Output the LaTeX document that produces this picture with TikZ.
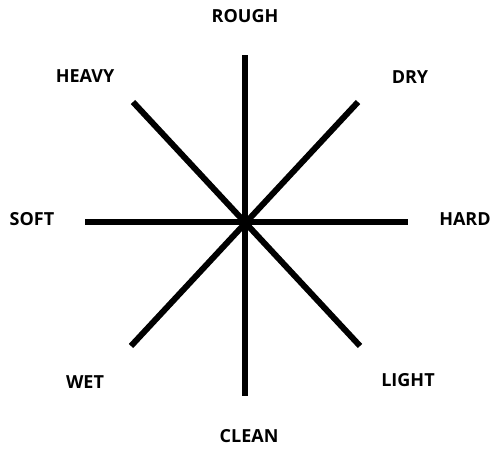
\documentclass[tikz,border=0pt]{standalone}
\usepackage{fontspec}
\setmainfont{Open Sans}
\begin{document}
\begin{tikzpicture}[x=1pt,y=-1pt,
  axis/.style={line width=6pt,black},
  lbl/.style={font=\bfseries\fontsize{18}{21}\selectfont,inner sep=0pt}]
\useasboundingbox (0,0) rectangle (492,448);
\coordinate (c) at (245,222);
\coordinate (n) at (245,55);
\coordinate (s) at (245,396);
\coordinate (w) at (85,222);
\coordinate (e) at (408,222);
\coordinate (nw) at (133,102);
\coordinate (se) at (360,346);
\coordinate (ne) at (358,102);
\coordinate (sw) at (131,346);
\draw[axis] (n) -- (s);
\draw[axis] (w) -- (e);
\draw[axis] (nw) -- (se);
\draw[axis] (ne) -- (sw);
\node[lbl] (rough) at (245,16) {ROUGH};
\node[lbl] (heavy) at (85,76) {HEAVY};
\node[lbl] (dry) at (410,77) {DRY};
\node[lbl] (soft) at (32,219) {SOFT};
\node[lbl] (hard) at (465,219) {HARD};
\node[lbl] (wet) at (85,382) {WET};
\node[lbl] (light) at (408,380) {LIGHT};
\node[lbl] (clean) at (249,436) {CLEAN};
\end{tikzpicture}
\end{document}
